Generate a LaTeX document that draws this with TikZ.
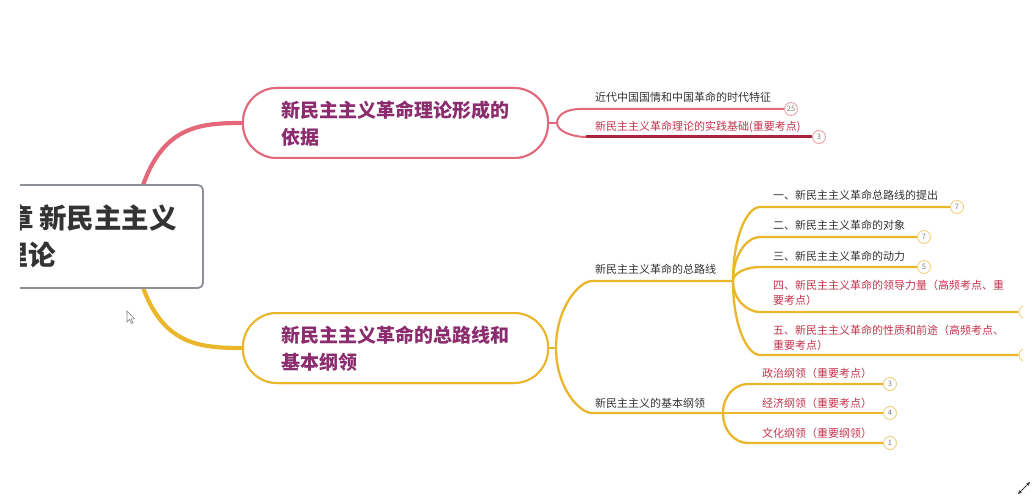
\documentclass[tikz,border=0pt]{standalone}
\usepackage{fontspec}
\setmainfont{Noto Sans CJK SC}
\usetikzlibrary{calc,arrows.meta}
\definecolor{redl}{HTML}{E2687A}
\definecolor{redd}{HTML}{A8243F}
\definecolor{redt}{HTML}{C4334D}
\definecolor{redbadge}{HTML}{E9A0A8}
\definecolor{yel}{HTML}{E9B62C}
\definecolor{yelbadge}{HTML}{EDD27A}
\definecolor{purp}{HTML}{8B2C6E}
\definecolor{txt}{HTML}{333333}
\definecolor{rootb}{HTML}{8C9099}
\newcommand\brcurve[4]{\draw[#1] (#2) .. controls ($(#2 |- #3)!0.4!(#2)$) and ($(#3)+(-13,0)$) .. (#3) -- (#4);}
\tikzset{
  mnode/.style={draw, line width=2, fill=white, minimum width=305, minimum height=70, rounded corners=34},
  rootbox/.style={draw=rootb, line width=1.8, fill=white, minimum width=303, minimum height=103, rounded corners=5},
  roottext/.style={font=\bfseries\fontsize{27.5}{27.5}\selectfont, text=txt, anchor=east, inner sep=0},
  title/.style={font=\bfseries\fontsize{19}{27}\selectfont, text=purp, align=left, anchor=west, inner sep=0},
  leaf/.style={font=\fontsize{11}{15}\selectfont, text=txt, align=left, anchor=west, inner sep=0},
  leafr/.style={leaf, text=redt},
  badge/.style={circle, draw=yelbadge, line width=0.9, minimum size=13, inner sep=0, font=\fontsize{7.5}{7.5}\selectfont, text=gray, fill=white},
  rbadge/.style={badge, draw=redbadge},
  ybr/.style={draw=yel, line width=2.3},
  rbr/.style={draw=redl, line width=2},
  mainconn/.style={line width=4.2},
}
\begin{document}
\begin{tikzpicture}[x=1pt,y=-1pt]
\useasboundingbox (0,0) rectangle (1036,500);
\begin{scope}
\clip (20,0) rectangle (1023,500);
% main connectors
\coordinate (rc) at (131,237);
\node[mnode, draw=redl] (n1) at (395.5,123) {};
\node[mnode, draw=yel] (n2) at (395.5,348) {};
\draw[redl, mainconn] (rc) .. controls (147,128) and (190,123) .. (n1.west);
\draw[yel, mainconn] (rc) .. controls (147,343) and (190,348) .. (n2.west);
\node[mnode, draw=redl] at (n1) {};
\node[mnode, draw=yel] at (n2) {};
% root
\node[rootbox] (root) at (51.5,236.5) {};
\node[roottext] (r1) at (177,218) {章\hspace{5pt}新民主主义};
\node[roottext] (r2) at (56,255) {理论};
% titles
\node[title] (t1) at (281,123.5) {新民主主义革命理论形成的\\依据};
\node[title] (t2) at (281,348.5) {新民主主义革命的总路线和\\基本纲领};
% red branch
\coordinate (f1) at (557,123);
\draw[rbr] (n1.east) -- (f1);
\coordinate (sa) at (580,109);
\coordinate (sb) at (586,137);
\node[rbadge] (ba) at (791,109) {25};
\node[rbadge] (bb) at (819,137) {3};
\brcurve{rbr}{f1}{sa}{ba.west}
\draw[rbr] (f1) .. controls ($(f1 |- sb)!0.4!(f1)$) and ($(sb)+(-13,0)$) .. (sb);
\draw[draw=redd, line width=3] (sb) -- (bb.west);
\node[leaf] (la) at (595,97) {近代中国国情和中国革命的时代特征};
\node[leafr] (lb) at (595,127) {新民主主义革命理论的实践基础(重要考点)};
% yellow branch
\coordinate (f2) at (556,348);
\draw[ybr] (n2.east) -- (f2);
\coordinate (p1) at (592,281);
\coordinate (g1) at (733,281);
\coordinate (p2) at (592,413);
\coordinate (g2) at (723,413);
\brcurve{ybr}{f2}{p1}{g1}
\brcurve{ybr}{f2}{p2}{g2}
\node[leaf] (lp1) at (595,269) {新民主主义革命的总路线};
\node[leaf] (lp2) at (595,403) {新民主主义的基本纲领};
% children of g1
\coordinate (c1) at (760,207);
\coordinate (c2) at (760,237);
\coordinate (c3) at (760,267);
\coordinate (c4) at (760,312);
\coordinate (c5) at (760,355);
\node[badge] (bc1) at (957,207) {7};
\node[badge] (bc2) at (924,237) {7};
\node[badge] (bc3) at (924,267) {5};
\node[badge] (bc4) at (1025.5,312) {};
\node[badge] (bc5) at (1025.5,355) {};
\brcurve{ybr}{g1}{c1}{bc1.west}
\brcurve{ybr}{g1}{c2}{bc2.west}
\brcurve{ybr}{g1}{c3}{bc3.west}
\brcurve{ybr}{g1}{c4}{bc4.west}
\brcurve{ybr}{g1}{c5}{bc5.west}
\node[leaf] (lc1) at (773,195) {一、新民主主义革命总路线的提出};
\node[leaf] (lc2) at (773,225) {二、新民主主义革命的对象};
\node[leaf] (lc3) at (773,256) {三、新民主主义革命的动力};
\node[leafr] (lc4) at (773,293) {四、新民主主义革命的领导力量（高频考点、重\\要考点）};
\node[leafr] (lc5) at (773,338) {五、新民主主义革命的性质和前途（高频考点、\\重要考点）};
% children of g2
\coordinate (d1) at (748,384);
\coordinate (d2) at (748,413);
\coordinate (d3) at (748,443);
\node[badge] (bd1) at (890,384) {3};
\node[badge] (bd2) at (890,413) {4};
\node[badge] (bd3) at (890,443) {1};
\brcurve{ybr}{g2}{d1}{bd1.west}
\draw[ybr] (g2) -- (bd2.west);
\brcurve{ybr}{g2}{d3}{bd3.west}
\node[leafr] (ld1) at (762,373) {政治纲领（重要考点）};
\node[leafr] (ld2) at (762,403) {经济纲领（重要考点）};
\node[leafr] (ld3) at (762,433) {文化纲领（重要纲领）};
% cursor
\draw[gray, line width=0.6, fill=white] (127,311) -- (127,322) -- (129.5,319.5) -- (131.5,323.5) -- (133,322.8) -- (131,319) -- (134.5,318.8) -- cycle;
\end{scope}
% resize icon
\coordinate (ia) at (1018,494);
\coordinate (ib) at (1030,482);
\draw[{Stealth[length=4pt,width=4pt]}-{Stealth[length=4pt,width=4pt]}, line width=1, black!75] (ia) -- (ib);
\end{tikzpicture}
\end{document}
